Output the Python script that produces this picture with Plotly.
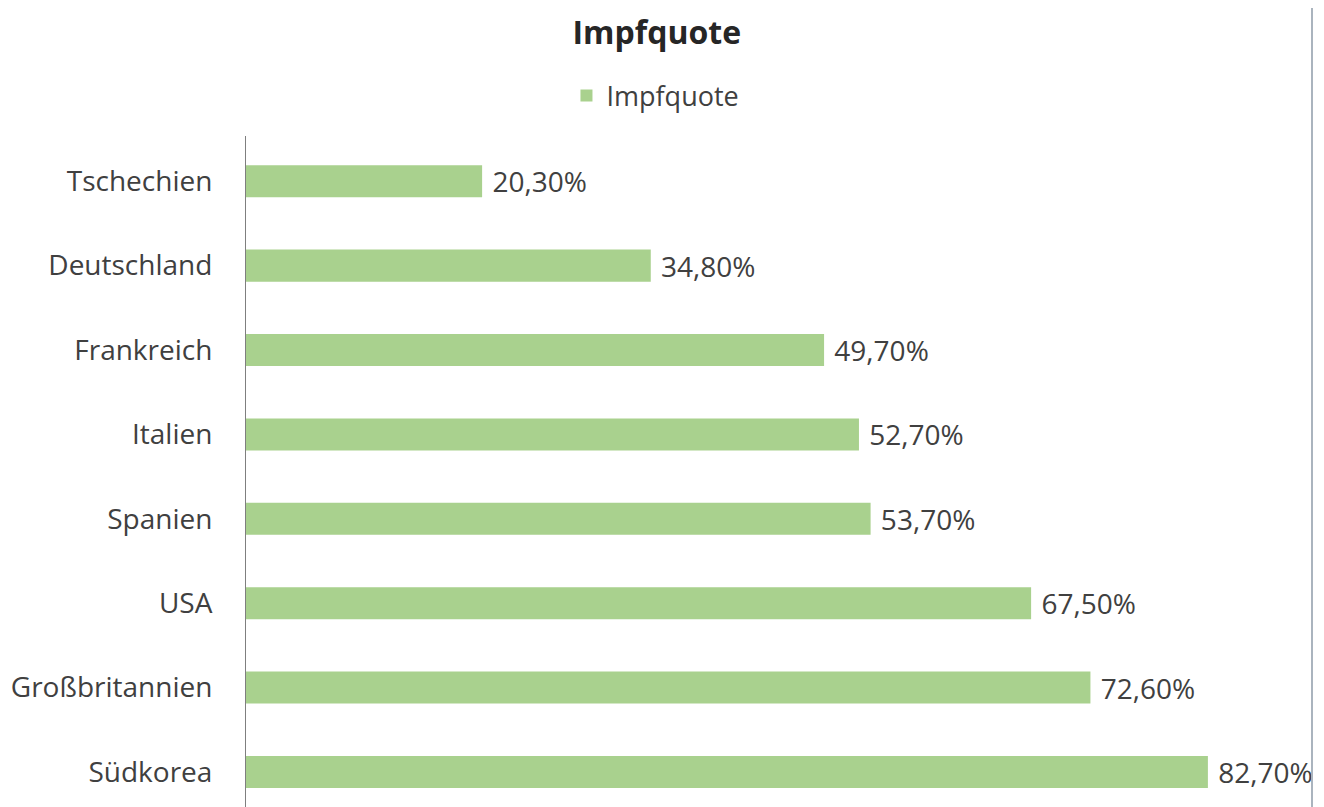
import plotly.graph_objects as go

countries = ["Südkorea", "Großbritannien", "USA", "Spanien", "Italien", "Frankreich", "Deutschland", "Tschechien"]
rates = [82.7, 72.6, 67.5, 53.7, 52.7, 49.7, 34.8, 20.3]
labels = ["82,70%", "72,60%", "67,50%", "53,70%", "52,70%", "49,70%", "34,80%", "20,30%"]
series_name = "Impfquote"

FONT = "Open Sans"
TXT = "#404040"
W, H = 1316, 799  # page body has an 8px margin

fig = go.Figure()
fig.add_trace(go.Bar(
    y=countries, x=rates, orientation="h", name=series_name,
    marker=dict(color="#A9D18E", line=dict(width=0)),
    text=labels, texttemplate=" %{text}", textposition="outside", cliponaxis=False,
    constraintext="none",
    textfont=dict(family=FONT, size=28, color=TXT),
    showlegend=True,
))

fig.update_layout(
    width=W, height=H,
    margin=dict(l=238, r=12, t=128, b=0, autoexpand=False),
    paper_bgcolor="white", plot_bgcolor="white",
    bargap=0.62,
    title=dict(text="<b>Impfquote</b>", x=0.493, xref="container", xanchor="center",
               y=1 - 25 / H, yref="container", yanchor="middle",
               font=dict(family=FONT, size=32, color="#262626")),
    legend=dict(orientation="h", x=0.492, xref="container", xanchor="center",
                y=1 - 88 / H, yref="container", yanchor="middle",
                font=dict(family=FONT, size=27, color=TXT),
                itemwidth=30, bgcolor="rgba(0,0,0,0)"),
    xaxis=dict(range=[0, 91.65], visible=False, showgrid=False, zeroline=False),
    yaxis=dict(categoryorder="array", categoryarray=countries,
               range=[-0.415, 7.536], showgrid=False, zeroline=False,
               showline=True, linecolor="#7f7f7f", linewidth=1, ticks="",
               ticklabelstandoff=27,
               tickfont=dict(family=FONT, size=28, color=TXT)),
    shapes=[dict(type="line", xref="paper", yref="paper", x0=1.0, x1=1.0,
                 y0=-0.02, y1=(H - 0) / (H - 128), line=dict(color="#aab4be", width=2))],
)

fig.write_html("out.html")
